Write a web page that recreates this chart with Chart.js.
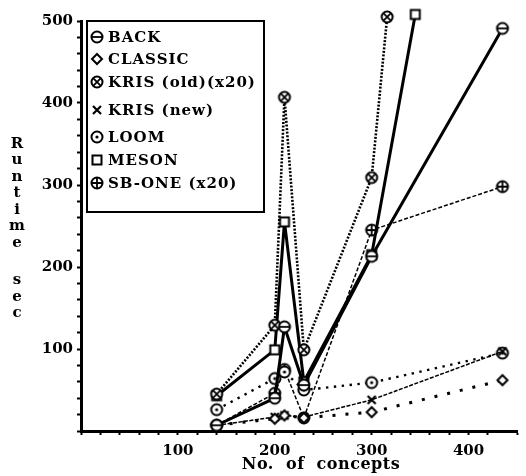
<!DOCTYPE html>
<html>
<head>
<meta charset="utf-8">
<script src="https://cdn.jsdelivr.net/npm/chart.js@4.4.0/dist/chart.umd.min.js"></script>
<style>
  body { margin: 0; background: #fff; }
  canvas { display: block; }
</style>
</head>
<body>
<canvas id="runtimeChart" width="526" height="476"></canvas>
<script>
// runtime (sec) against number of concepts, one array per system
var concepts = [140, 200, 210, 230, 300, 435];
var backTimes = [7, 40, 127, 56, 213, 491];
var classicTimes = [7, 15, 19, 16, 23, 62];
var krisOldConcepts = [140, 200, 210, 230, 300, 316];
var krisOldTimes = [45, 129, 407, 99, 309, 505];
var krisNewTimes = [7, 17, 19, 17, 38, 97];
var loomTimes = [26, 64, 72, 50, 59, 95];
var mesonConcepts = [140, 200, 210, 230, 300, 345];
var mesonTimes = [43, 99, 255, 60, 215, 508];
var sbOneTimes = [7, 46, 75, 16, 245, 298];

var seriesNames = ["BACK", "CLASSIC", "KRIS (old)(x20)", "KRIS (new)", "LOOM", "MESON", "SB-ONE (x20)"];
var xLabels = [100, 200, 300, 400];
var yLabels = [100, 200, 300, 400, 500];
var xTitle = "No. of concepts";
var yTitle = "Runtime sec";

var FONT = "'DejaVu Serif', serif";

function pts(xs, ys) {
  var out = [];
  for (var i = 0; i < xs.length; i++) out.push({ x: xs[i], y: ys[i] });
  return out;
}

// the little symbols used for every system
function drawMark(ctx, kind, x, y) {
  var r = 5.5;
  ctx.save();
  ctx.strokeStyle = "#000";
  ctx.fillStyle = "#fff";
  ctx.lineWidth = 2;
  ctx.beginPath();
  if (kind == "diamond") {
    ctx.moveTo(x, y - 5); ctx.lineTo(x + 5, y); ctx.lineTo(x, y + 5); ctx.lineTo(x - 5, y); ctx.closePath();
    ctx.fill(); ctx.stroke();
  } else if (kind == "cross") {
    ctx.lineWidth = 2.2;
    ctx.moveTo(x - 4, y - 4); ctx.lineTo(x + 4, y + 4);
    ctx.moveTo(x + 4, y - 4); ctx.lineTo(x - 4, y + 4);
    ctx.stroke();
  } else if (kind == "square") {
    ctx.rect(x - 4.5, y - 4.5, 9, 9);
    ctx.fill(); ctx.stroke();
  } else {
    ctx.arc(x, y, r, 0, Math.PI * 2);
    ctx.fill(); ctx.stroke();
    ctx.beginPath();
    ctx.lineWidth = 1.8;
    if (kind == "minus" || kind == "plus") { ctx.moveTo(x - r, y); ctx.lineTo(x + r, y); }
    if (kind == "plus") { ctx.moveTo(x, y - r); ctx.lineTo(x, y + r); }
    if (kind == "times") {
      var d = r * 0.7;
      ctx.moveTo(x - d, y - d); ctx.lineTo(x + d, y + d);
      ctx.moveTo(x + d, y - d); ctx.lineTo(x - d, y + d);
    }
    ctx.stroke();
    if (kind == "dot") {
      ctx.beginPath(); ctx.fillStyle = "#000"; ctx.arc(x, y, 1.6, 0, Math.PI * 2); ctx.fill();
    }
  }
  ctx.restore();
}

function markImage(kind) {
  var c = document.createElement("canvas");
  c.width = 16; c.height = 16;
  drawMark(c.getContext("2d"), kind, 8, 8);
  return c;
}

var marks = ["minus", "diamond", "times", "cross", "dot", "square", "plus"];
var widths = [3, 3, 2.6, 1.5, 2.4, 3, 1.5];
var dashes = [[], [3, 10], [2, 1.6], [4, 1.5], [2.4, 5.5], [], [4, 2]];
var seriesData = [
  pts(concepts, backTimes),
  pts(concepts, classicTimes),
  pts(krisOldConcepts, krisOldTimes),
  pts(concepts, krisNewTimes),
  pts(concepts, loomTimes),
  pts(mesonConcepts, mesonTimes),
  pts(concepts, sbOneTimes)
];

var datasets = [];
for (var i = 0; i < seriesNames.length; i++) {
  var img = markImage(marks[i]);
  datasets.push({
    label: seriesNames[i],
    data: seriesData[i],
    mark: marks[i],
    borderColor: "#000",
    borderWidth: widths[i],
    borderDash: dashes[i],
    pointStyle: img,
    pointRadius: 6,
    tension: 0,
    clip: false
  });
}

// boxed key in the upper left of the plot
var keyBox = {
  id: "keyBox",
  afterDraw: function (chart) {
    var ctx = chart.ctx;
    var ys = [37, 59, 82, 110, 137, 160, 183];
    ctx.save();
    ctx.fillStyle = "#fff";
    ctx.fillRect(87, 21, 177, 191);
    ctx.strokeStyle = "#000";
    ctx.lineWidth = 2;
    ctx.strokeRect(87, 21, 177, 191);
    ctx.font = "bold 15px " + FONT;
    ctx.letterSpacing = "1px";
    ctx.textBaseline = "middle";
    ctx.fillStyle = "#000";
    chart.data.datasets.forEach(function (ds, k) {
      drawMark(ctx, ds.mark, 97, ys[k]);
      ctx.fillStyle = "#000";
      ctx.fillText(ds.label, 108, ys[k] + 1);
    });
    ctx.restore();
  }
};

// axis titles: the vertical one has its letters stacked one under another
var axisTitles = {
  id: "axisTitles",
  afterDraw: function (chart) {
    var ctx = chart.ctx;
    ctx.save();
    ctx.font = "bold 15px " + FONT;
    ctx.textAlign = "center";
    ctx.textBaseline = "middle";
    ctx.fillStyle = "#000";
    var y = 144;
    for (var i = 0; i < yTitle.length; i++) {
      var ch = yTitle[i];
      if (ch == " ") { y += 21; continue; }
      ctx.fillText(ch, 17, y);
      y += 16.5;
    }
    ctx.font = "bold 16px " + FONT;
    ctx.letterSpacing = "0.5px";
    ctx.wordSpacing = "6px";
    ctx.fillText(xTitle, 321, 465);
    ctx.restore();
  }
};

new Chart(document.getElementById("runtimeChart"), {
  type: "line",
  data: { datasets: datasets },
  plugins: [keyBox, axisTitles],
  options: {
    responsive: false,
    animation: false,
    layout: { padding: { top: 21, right: 0, left: 0, bottom: 0 } },
    plugins: { legend: { display: false }, tooltip: { enabled: false } },
    scales: {
      x: {
        type: "linear",
        min: 0,
        max: 450,
        afterFit: function (s) { s.height = 45; },
        border: { display: true, width: 3, color: "#000" },
        grid: { drawOnChartArea: false, tickLength: 4, tickWidth: 2, tickColor: "#000" },
        ticks: {
          stepSize: 20,
          autoSkip: false,
          maxRotation: 0,
          padding: 7,
          color: "#000",
          font: { family: FONT, weight: "bold", size: 15 },
          callback: function (v) { return xLabels.indexOf(v) >= 0 ? String(v) : ""; }
        }
      },
      y: {
        min: 0,
        max: 500,
        afterFit: function (s) { s.width = 81; },
        border: { display: true, width: 3, color: "#000" },
        grid: { drawOnChartArea: false, tickLength: 4, tickWidth: 2, tickColor: "#000" },
        ticks: {
          stepSize: 20,
          autoSkip: false,
          padding: 4,
          color: "#000",
          font: { family: FONT, weight: "bold", size: 15 },
          callback: function (v) { return yLabels.indexOf(v) >= 0 ? String(v) : ""; }
        }
      }
    }
  }
});
</script>
</body>
</html>
